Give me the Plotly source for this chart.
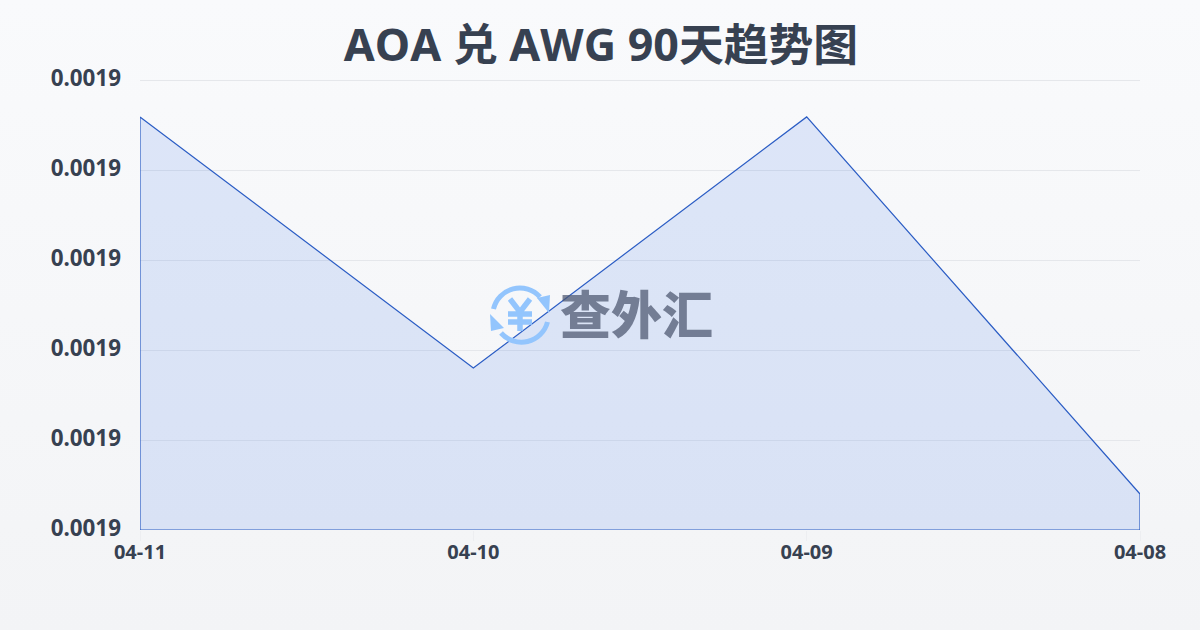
import base64
import plotly.graph_objects as go

dates = ["04-11", "04-10", "04-09", "04-08"]
rates = [0.00190459, 0.0019018, 0.00190459, 0.0019004]
y_min = 0.0019000
y_max = 0.0019050
y_step = 0.000001
title = "AOA 兑 AWG 90天趋势图"
brand = "查外汇"

FONT = "'Noto Sans', 'Noto Sans CJK SC', sans-serif"
INK = "#374151"

# plot area in pixels: 2px of headroom above the top gridline keeps that line drawn
L, R, T, B = 140, 1140, 78, 530
W, H = R - L, B - T
y_top = y_min + (y_max - y_min) * H / 450


def px(x):
    return (x - L) / W


def py(y):
    return (B - y) / H


bg_svg = ('<svg xmlns="http://www.w3.org/2000/svg" width="1200" height="630">'
          '<defs><linearGradient id="g" x1="0" y1="0" x2="0" y2="1">'
          '<stop offset="0" stop-color="#f9fafc"/><stop offset="1" stop-color="#f3f4f6"/>'
          '</linearGradient></defs><rect width="1200" height="630" fill="url(#g)"/></svg>')
icon_svg = ('<svg xmlns="http://www.w3.org/2000/svg" width="60" height="60" viewBox="0 0 60 60">'
            '<g fill="none" stroke="#93c5fd" stroke-width="5">'
            '<path d="M3.5 24 A27 27 0 0 1 50 12"/>'
            '<path d="M57.5 37 A27 27 0 0 1 11 48"/>'
            '<path d="M20 14 L30 27 L40 14 M30 27 L30 46 M18 29 L42 29 M18 37 L42 37" stroke-width="5.5"/></g>'
            '<g fill="#93c5fd"><path d="M47 13 L60 10 L59 28 Z"/><path d="M0 29 L1 46 L14 43 Z"/></g></svg>')


def uri(svg):
    return "data:image/svg+xml;base64," + base64.b64encode(svg.encode()).decode()


fig = go.Figure()
fig.add_trace(go.Scatter(
    x=dates + [dates[-1], dates[0], dates[0]],
    y=rates + [y_min, y_min, rates[0]],
    mode="lines",
    fill="toself",
    fillcolor="rgba(37,99,235,0.13)",
    line=dict(color="#2a5cc4", width=1.2),
    cliponaxis=False,
    hoverinfo="skip",
    showlegend=False,
))
fig.update_layout(
    width=1200, height=630,
    margin=dict(l=L, r=1200 - R, t=T, b=630 - B),
    autosize=False,
    paper_bgcolor="#f6f7f9",
    plot_bgcolor="rgba(0,0,0,0)",
    font=dict(family=FONT, color=INK),
    title=dict(text=f"<b>{title}</b>", x=601 / 1200, xanchor="center", y=0.928, yanchor="middle",
               font=dict(size=44.8, family=FONT, color=INK)),
    xaxis=dict(type="category", categoryorder="array", categoryarray=dates,
               range=[0, len(dates) - 1], showgrid=False, zeroline=False, showline=False,
               ticks="outside", ticklen=10, tickcolor="rgba(229,231,235,0.5)", tickwidth=1,
               ticklabelstandoff=-6,
               tickfont=dict(size=20, family=FONT, color=INK, weight="bold")),
    yaxis=dict(range=[y_min, y_top], tick0=y_min, dtick=y_step, tickformat=".4f",
               showgrid=True, gridcolor="#e5e7eb", gridwidth=1, zeroline=False, showline=False,
               ticks="", ticklabelstandoff=18, ticklabelshift=-2,
               tickfont=dict(size=22.4, family=FONT, color=INK, weight="bold")),
    images=[
        dict(source=uri(bg_svg), xref="paper", yref="paper", x=px(0), y=py(0),
             sizex=1200 / W, sizey=630 / H, xanchor="left", yanchor="top", layer="below", sizing="stretch"),
        dict(source=uri(icon_svg), xref="paper", yref="paper", x=px(490), y=py(285),
             sizex=60 / W, sizey=60 / H, xanchor="left", yanchor="top", layer="above", sizing="stretch"),
    ],
    annotations=[
        dict(text=brand, xref="paper", yref="paper", x=px(636), y=py(312),
             xanchor="center", yanchor="middle", showarrow=False,
             font=dict(size=51, family="'Noto Sans CJK SC'", weight=900, color="rgba(75,85,109,0.72)")),
    ],
)
fig.write_html(
    "out.html",
    config={"displayModeBar": False},
    post_script=("document.body.style.margin='0';document.body.style.overflow='hidden';"
                 "var s=document.createElement('style');"
                 "s.textContent='svg text{font-kerning:none !important;}';"
                 "document.head.appendChild(s);"),
)
